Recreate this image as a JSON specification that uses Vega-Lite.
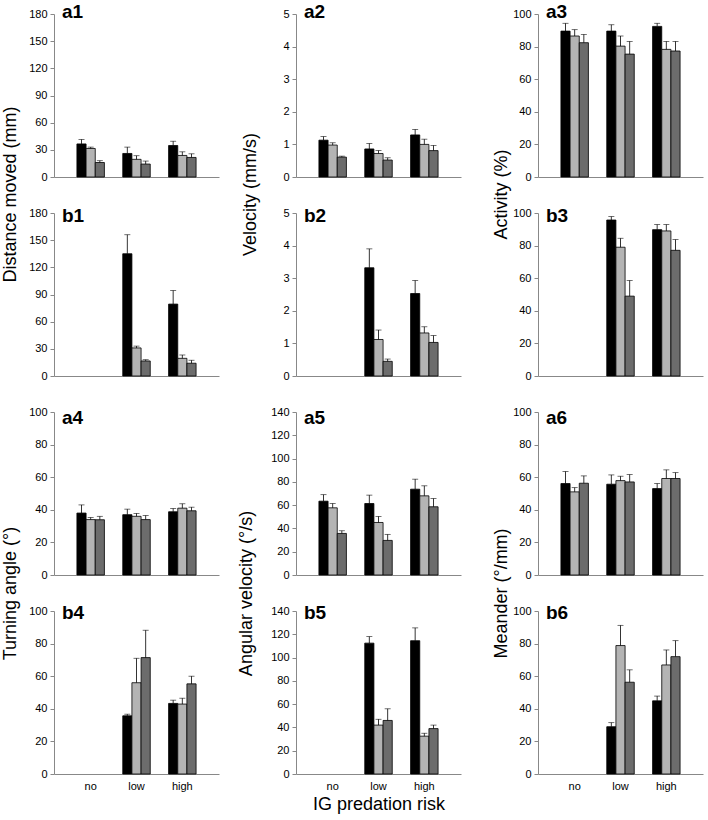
{
 "$schema": "https://vega.github.io/schema/vega-lite/v6.json",
 "padding": {"left": 1, "top": 3, "right": 2, "bottom": 2},
 "config": {
  "view": {"stroke": null},
  "font": "Liberation Sans",
  "axis": {"domainColor": "#888888", "tickColor": "#888888", "labelColor": "#000000", "labelFont": "Liberation Sans", "labelFontSize": 11, "titleFont": "Liberation Sans", "titleFontSize": 18, "titleFontWeight": "normal", "titleColor": "#000000", "grid": false, "domainWidth": 1},
  "axisY": {"tickSize": 4, "labelPadding": 3},
  "axisX": {"ticks": false, "labels": false, "title": null},
  "title": {"fontSize": 19, "fontWeight": "bold", "anchor": "start", "frame": "group", "font": "Liberation Sans", "dx": 8, "offset": -14, "color": "#000000"}
 },
 "datasets": {
  "d": [
   {"panel": "a1", "risk": "no", "series": "s1", "mean": 36.5, "upper": 41.5},
   {"panel": "a1", "risk": "no", "series": "s2", "mean": 31.5, "upper": 33},
   {"panel": "a1", "risk": "no", "series": "s3", "mean": 16, "upper": 18},
   {"panel": "a1", "risk": "low", "series": "s1", "mean": 26, "upper": 33},
   {"panel": "a1", "risk": "low", "series": "s2", "mean": 19.5, "upper": 23.5},
   {"panel": "a1", "risk": "low", "series": "s3", "mean": 14.3, "upper": 17.6},
   {"panel": "a1", "risk": "high", "series": "s1", "mean": 34.8, "upper": 39.5},
   {"panel": "a1", "risk": "high", "series": "s2", "mean": 23.8, "upper": 27.8},
   {"panel": "a1", "risk": "high", "series": "s3", "mean": 21.6, "upper": 25.6},
   {"panel": "a2", "risk": "no", "series": "s1", "mean": 1.13, "upper": 1.24},
   {"panel": "a2", "risk": "no", "series": "s2", "mean": 0.98, "upper": 1.05},
   {"panel": "a2", "risk": "no", "series": "s3", "mean": 0.61, "upper": 0.64},
   {"panel": "a2", "risk": "low", "series": "s1", "mean": 0.86, "upper": 1.03},
   {"panel": "a2", "risk": "low", "series": "s2", "mean": 0.72, "upper": 0.81},
   {"panel": "a2", "risk": "low", "series": "s3", "mean": 0.52, "upper": 0.59},
   {"panel": "a2", "risk": "high", "series": "s1", "mean": 1.29, "upper": 1.46},
   {"panel": "a2", "risk": "high", "series": "s2", "mean": 1.0, "upper": 1.16},
   {"panel": "a2", "risk": "high", "series": "s3", "mean": 0.81, "upper": 0.97},
   {"panel": "a3", "risk": "no", "series": "s1", "mean": 89.5, "upper": 94.3},
   {"panel": "a3", "risk": "no", "series": "s2", "mean": 86.5, "upper": 90.4},
   {"panel": "a3", "risk": "no", "series": "s3", "mean": 82.4, "upper": 87.5},
   {"panel": "a3", "risk": "low", "series": "s1", "mean": 89.5, "upper": 93.4},
   {"panel": "a3", "risk": "low", "series": "s2", "mean": 80.3, "upper": 86.5},
   {"panel": "a3", "risk": "low", "series": "s3", "mean": 75.4, "upper": 83.2},
   {"panel": "a3", "risk": "high", "series": "s1", "mean": 92.4, "upper": 94.3},
   {"panel": "a3", "risk": "high", "series": "s2", "mean": 78.3, "upper": 83.2},
   {"panel": "a3", "risk": "high", "series": "s3", "mean": 77.3, "upper": 83.2},
   {"panel": "b1", "risk": "low", "series": "s1", "mean": 135, "upper": 156},
   {"panel": "b1", "risk": "low", "series": "s2", "mean": 31, "upper": 33},
   {"panel": "b1", "risk": "low", "series": "s3", "mean": 16.6, "upper": 18},
   {"panel": "b1", "risk": "high", "series": "s1", "mean": 79.4, "upper": 94.4},
   {"panel": "b1", "risk": "high", "series": "s2", "mean": 19.5, "upper": 23.2},
   {"panel": "b1", "risk": "high", "series": "s3", "mean": 14.1, "upper": 17.4},
   {"panel": "b2", "risk": "low", "series": "s1", "mean": 3.32, "upper": 3.9},
   {"panel": "b2", "risk": "low", "series": "s2", "mean": 1.12, "upper": 1.41},
   {"panel": "b2", "risk": "low", "series": "s3", "mean": 0.45, "upper": 0.52},
   {"panel": "b2", "risk": "high", "series": "s1", "mean": 2.53, "upper": 2.93},
   {"panel": "b2", "risk": "high", "series": "s2", "mean": 1.32, "upper": 1.51},
   {"panel": "b2", "risk": "high", "series": "s3", "mean": 1.03, "upper": 1.24},
   {"panel": "b3", "risk": "low", "series": "s1", "mean": 95.7, "upper": 97.8},
   {"panel": "b3", "risk": "low", "series": "s2", "mean": 79, "upper": 84.5},
   {"panel": "b3", "risk": "low", "series": "s3", "mean": 49, "upper": 58.6},
   {"panel": "b3", "risk": "high", "series": "s1", "mean": 89.8, "upper": 92.9},
   {"panel": "b3", "risk": "high", "series": "s2", "mean": 89, "upper": 92.9},
   {"panel": "b3", "risk": "high", "series": "s3", "mean": 77.1, "upper": 83.7},
   {"panel": "a4", "risk": "no", "series": "s1", "mean": 38, "upper": 43},
   {"panel": "a4", "risk": "no", "series": "s2", "mean": 34, "upper": 35.3},
   {"panel": "a4", "risk": "no", "series": "s3", "mean": 33.9, "upper": 36},
   {"panel": "a4", "risk": "low", "series": "s1", "mean": 37, "upper": 40.4},
   {"panel": "a4", "risk": "low", "series": "s2", "mean": 36, "upper": 37.8},
   {"panel": "a4", "risk": "low", "series": "s3", "mean": 34, "upper": 36.5},
   {"panel": "a4", "risk": "high", "series": "s1", "mean": 38.8, "upper": 40.8},
   {"panel": "a4", "risk": "high", "series": "s2", "mean": 41, "upper": 43.7},
   {"panel": "a4", "risk": "high", "series": "s3", "mean": 39.4, "upper": 41.6},
   {"panel": "b4", "risk": "low", "series": "s1", "mean": 35.7, "upper": 36.7},
   {"panel": "b4", "risk": "low", "series": "s2", "mean": 56, "upper": 71},
   {"panel": "b4", "risk": "low", "series": "s3", "mean": 71.4, "upper": 88.2},
   {"panel": "b4", "risk": "high", "series": "s1", "mean": 43.3, "upper": 45.3},
   {"panel": "b4", "risk": "high", "series": "s2", "mean": 42.9, "upper": 46.5},
   {"panel": "b4", "risk": "high", "series": "s3", "mean": 55.3, "upper": 60},
   {"panel": "a5", "risk": "no", "series": "s1", "mean": 63.4, "upper": 69},
   {"panel": "a5", "risk": "no", "series": "s2", "mean": 57.7, "upper": 61.4},
   {"panel": "a5", "risk": "no", "series": "s3", "mean": 35.7, "upper": 38},
   {"panel": "a5", "risk": "low", "series": "s1", "mean": 61.4, "upper": 68.6},
   {"panel": "a5", "risk": "low", "series": "s2", "mean": 45.1, "upper": 50.3},
   {"panel": "a5", "risk": "low", "series": "s3", "mean": 29.7, "upper": 34.9},
   {"panel": "a5", "risk": "high", "series": "s1", "mean": 73.7, "upper": 82.3},
   {"panel": "a5", "risk": "high", "series": "s2", "mean": 68, "upper": 76.6},
   {"panel": "a5", "risk": "high", "series": "s3", "mean": 58.6, "upper": 65.7},
   {"panel": "b5", "risk": "low", "series": "s1", "mean": 112.4, "upper": 118},
   {"panel": "b5", "risk": "low", "series": "s2", "mean": 42, "upper": 47},
   {"panel": "b5", "risk": "low", "series": "s3", "mean": 46, "upper": 56},
   {"panel": "b5", "risk": "high", "series": "s1", "mean": 114.5, "upper": 125.5},
   {"panel": "b5", "risk": "high", "series": "s2", "mean": 32.5, "upper": 35},
   {"panel": "b5", "risk": "high", "series": "s3", "mean": 39, "upper": 42},
   {"panel": "a6", "risk": "no", "series": "s1", "mean": 56.1, "upper": 63.5},
   {"panel": "a6", "risk": "no", "series": "s2", "mean": 51, "upper": 53.6},
   {"panel": "a6", "risk": "no", "series": "s3", "mean": 56.3, "upper": 60.8},
   {"panel": "a6", "risk": "low", "series": "s1", "mean": 55.7, "upper": 61.4},
   {"panel": "a6", "risk": "low", "series": "s2", "mean": 57.9, "upper": 60.6},
   {"panel": "a6", "risk": "low", "series": "s3", "mean": 57.1, "upper": 61.6},
   {"panel": "a6", "risk": "high", "series": "s1", "mean": 53, "upper": 56.1},
   {"panel": "a6", "risk": "high", "series": "s2", "mean": 59.2, "upper": 64.5},
   {"panel": "a6", "risk": "high", "series": "s3", "mean": 59.2, "upper": 62.8},
   {"panel": "b6", "risk": "low", "series": "s1", "mean": 29, "upper": 31.5},
   {"panel": "b6", "risk": "low", "series": "s2", "mean": 78.8, "upper": 91.2},
   {"panel": "b6", "risk": "low", "series": "s3", "mean": 56.3, "upper": 63.9},
   {"panel": "b6", "risk": "high", "series": "s1", "mean": 44.9, "upper": 47.8},
   {"panel": "b6", "risk": "high", "series": "s2", "mean": 66.9, "upper": 76.1},
   {"panel": "b6", "risk": "high", "series": "s3", "mean": 72, "upper": 81.8}
  ]
 },
 "bounds": "flush",
 "columns": 3,
 "spacing": {"row": 36, "column": 77},
 "concat": [
    {"width": 165, "height": 163, "title": {"text": "a1", "offset": -14}, "data": {"name": "d"}, "transform": [{"filter": "datum.panel === 'a1'"}],
     "encoding": {"x": {"field": "risk", "type": "nominal", "sort": null, "scale": {"domain": ["no", "low", "high"], "paddingInner": 0.4, "paddingOuter": 0.5}},
      "xOffset": {"field": "series", "type": "nominal", "scale": {"domain": ["s1", "s2", "s3"]}},
      "y": {"field": "mean", "type": "quantitative", "title": "Distance moved (mm)", "scale": {"domain": [0, 180]}, "axis": {"values": [0, 30, 60, 90, 120, 150, 180], "titleY": 180, "titleX": -44, "titleBaseline": "middle", "titleAlign": "center"}}},
     "layer": [
      {"mark": {"type": "bar", "stroke": "#000000", "strokeWidth": 0.8}, "encoding": {"color": {"field": "series", "type": "nominal", "scale": {"domain": ["s1", "s2", "s3"], "range": ["#000000", "#b4b4b4", "#6c6c6c"]}, "legend": null}}},
      {"mark": {"type": "rule", "color": "#000000", "strokeWidth": 0.8}, "encoding": {"y2": {"field": "upper"}}},
      {"mark": {"type": "tick", "color": "#000000", "thickness": 0.8, "size": 6}, "encoding": {"y": {"field": "upper", "type": "quantitative", "title": "Distance moved (mm)"}}}
     ]},
    {"width": 165, "height": 163, "title": {"text": "a2", "offset": -14}, "data": {"name": "d"}, "transform": [{"filter": "datum.panel === 'a2'"}],
     "encoding": {"x": {"field": "risk", "type": "nominal", "sort": null, "scale": {"domain": ["no", "low", "high"], "paddingInner": 0.4, "paddingOuter": 0.5}},
      "xOffset": {"field": "series", "type": "nominal", "scale": {"domain": ["s1", "s2", "s3"]}},
      "y": {"field": "mean", "type": "quantitative", "title": "Velocity (mm/s)", "scale": {"domain": [0, 5]}, "axis": {"values": [0, 1, 2, 3, 4, 5], "titleY": 180, "titleX": -46, "titleBaseline": "middle", "titleAlign": "center"}}},
     "layer": [
      {"mark": {"type": "bar", "stroke": "#000000", "strokeWidth": 0.8}, "encoding": {"color": {"field": "series", "type": "nominal", "scale": {"domain": ["s1", "s2", "s3"], "range": ["#000000", "#b4b4b4", "#6c6c6c"]}, "legend": null}}},
      {"mark": {"type": "rule", "color": "#000000", "strokeWidth": 0.8}, "encoding": {"y2": {"field": "upper"}}},
      {"mark": {"type": "tick", "color": "#000000", "thickness": 0.8, "size": 6}, "encoding": {"y": {"field": "upper", "type": "quantitative", "title": "Velocity (mm/s)"}}}
     ]},
    {"width": 165, "height": 163, "title": {"text": "a3", "offset": -14}, "data": {"name": "d"}, "transform": [{"filter": "datum.panel === 'a3'"}],
     "encoding": {"x": {"field": "risk", "type": "nominal", "sort": null, "scale": {"domain": ["no", "low", "high"], "paddingInner": 0.4, "paddingOuter": 0.5}},
      "xOffset": {"field": "series", "type": "nominal", "scale": {"domain": ["s1", "s2", "s3"]}},
      "y": {"field": "mean", "type": "quantitative", "title": "Activity (%)", "scale": {"domain": [0, 100]}, "axis": {"values": [0, 20, 40, 60, 80, 100], "titleY": 180, "titleX": -37, "titleBaseline": "middle", "titleAlign": "center"}}},
     "layer": [
      {"mark": {"type": "bar", "stroke": "#000000", "strokeWidth": 0.8}, "encoding": {"color": {"field": "series", "type": "nominal", "scale": {"domain": ["s1", "s2", "s3"], "range": ["#000000", "#b4b4b4", "#6c6c6c"]}, "legend": null}}},
      {"mark": {"type": "rule", "color": "#000000", "strokeWidth": 0.8}, "encoding": {"y2": {"field": "upper"}}},
      {"mark": {"type": "tick", "color": "#000000", "thickness": 0.8, "size": 6}, "encoding": {"y": {"field": "upper", "type": "quantitative", "title": "Activity (%)"}}}
     ]},
    {"width": 165, "height": 163, "title": {"text": "b1", "offset": -19}, "data": {"name": "d"}, "transform": [{"filter": "datum.panel === 'b1'"}],
     "encoding": {"x": {"field": "risk", "type": "nominal", "sort": null, "scale": {"domain": ["no", "low", "high"], "paddingInner": 0.4, "paddingOuter": 0.5}},
      "xOffset": {"field": "series", "type": "nominal", "scale": {"domain": ["s1", "s2", "s3"]}},
      "y": {"field": "mean", "type": "quantitative", "title": null, "scale": {"domain": [0, 180]}, "axis": {"values": [0, 30, 60, 90, 120, 150, 180]}}},
     "layer": [
      {"mark": {"type": "bar", "stroke": "#000000", "strokeWidth": 0.8}, "encoding": {"color": {"field": "series", "type": "nominal", "scale": {"domain": ["s1", "s2", "s3"], "range": ["#000000", "#b4b4b4", "#6c6c6c"]}, "legend": null}}},
      {"mark": {"type": "rule", "color": "#000000", "strokeWidth": 0.8}, "encoding": {"y2": {"field": "upper"}}},
      {"mark": {"type": "tick", "color": "#000000", "thickness": 0.8, "size": 6}, "encoding": {"y": {"field": "upper", "type": "quantitative", "title": null}}}
     ]},
    {"width": 165, "height": 163, "title": {"text": "b2", "offset": -19}, "data": {"name": "d"}, "transform": [{"filter": "datum.panel === 'b2'"}],
     "encoding": {"x": {"field": "risk", "type": "nominal", "sort": null, "scale": {"domain": ["no", "low", "high"], "paddingInner": 0.4, "paddingOuter": 0.5}},
      "xOffset": {"field": "series", "type": "nominal", "scale": {"domain": ["s1", "s2", "s3"]}},
      "y": {"field": "mean", "type": "quantitative", "title": null, "scale": {"domain": [0, 5]}, "axis": {"values": [0, 1, 2, 3, 4, 5]}}},
     "layer": [
      {"mark": {"type": "bar", "stroke": "#000000", "strokeWidth": 0.8}, "encoding": {"color": {"field": "series", "type": "nominal", "scale": {"domain": ["s1", "s2", "s3"], "range": ["#000000", "#b4b4b4", "#6c6c6c"]}, "legend": null}}},
      {"mark": {"type": "rule", "color": "#000000", "strokeWidth": 0.8}, "encoding": {"y2": {"field": "upper"}}},
      {"mark": {"type": "tick", "color": "#000000", "thickness": 0.8, "size": 6}, "encoding": {"y": {"field": "upper", "type": "quantitative", "title": null}}}
     ]},
    {"width": 165, "height": 163, "title": {"text": "b3", "offset": -19}, "data": {"name": "d"}, "transform": [{"filter": "datum.panel === 'b3'"}],
     "encoding": {"x": {"field": "risk", "type": "nominal", "sort": null, "scale": {"domain": ["no", "low", "high"], "paddingInner": 0.4, "paddingOuter": 0.5}},
      "xOffset": {"field": "series", "type": "nominal", "scale": {"domain": ["s1", "s2", "s3"]}},
      "y": {"field": "mean", "type": "quantitative", "title": null, "scale": {"domain": [0, 100]}, "axis": {"values": [0, 20, 40, 60, 80, 100]}}},
     "layer": [
      {"mark": {"type": "bar", "stroke": "#000000", "strokeWidth": 0.8}, "encoding": {"color": {"field": "series", "type": "nominal", "scale": {"domain": ["s1", "s2", "s3"], "range": ["#000000", "#b4b4b4", "#6c6c6c"]}, "legend": null}}},
      {"mark": {"type": "rule", "color": "#000000", "strokeWidth": 0.8}, "encoding": {"y2": {"field": "upper"}}},
      {"mark": {"type": "tick", "color": "#000000", "thickness": 0.8, "size": 6}, "encoding": {"y": {"field": "upper", "type": "quantitative", "title": null}}}
     ]},
    {"width": 165, "height": 163, "title": {"text": "a4", "offset": -22}, "data": {"name": "d"}, "transform": [{"filter": "datum.panel === 'a4'"}],
     "encoding": {"x": {"field": "risk", "type": "nominal", "sort": null, "scale": {"domain": ["no", "low", "high"], "paddingInner": 0.4, "paddingOuter": 0.5}},
      "xOffset": {"field": "series", "type": "nominal", "scale": {"domain": ["s1", "s2", "s3"]}},
      "y": {"field": "mean", "type": "quantitative", "title": "Turning angle (°)", "scale": {"domain": [0, 100]}, "axis": {"values": [0, 20, 40, 60, 80, 100], "titleY": 181, "titleX": -44, "titleBaseline": "middle", "titleAlign": "center"}}},
     "layer": [
      {"mark": {"type": "bar", "stroke": "#000000", "strokeWidth": 0.8}, "encoding": {"color": {"field": "series", "type": "nominal", "scale": {"domain": ["s1", "s2", "s3"], "range": ["#000000", "#b4b4b4", "#6c6c6c"]}, "legend": null}}},
      {"mark": {"type": "rule", "color": "#000000", "strokeWidth": 0.8}, "encoding": {"y2": {"field": "upper"}}},
      {"mark": {"type": "tick", "color": "#000000", "thickness": 0.8, "size": 6}, "encoding": {"y": {"field": "upper", "type": "quantitative", "title": "Turning angle (°)"}}}
     ]},
    {"width": 165, "height": 163, "title": {"text": "a5", "offset": -22}, "data": {"name": "d"}, "transform": [{"filter": "datum.panel === 'a5'"}],
     "encoding": {"x": {"field": "risk", "type": "nominal", "sort": null, "scale": {"domain": ["no", "low", "high"], "paddingInner": 0.4, "paddingOuter": 0.5}},
      "xOffset": {"field": "series", "type": "nominal", "scale": {"domain": ["s1", "s2", "s3"]}},
      "y": {"field": "mean", "type": "quantitative", "title": "Angular velocity (°/s)", "scale": {"domain": [0, 140]}, "axis": {"values": [0, 20, 40, 60, 80, 100, 120, 140], "titleY": 181, "titleX": -50, "titleBaseline": "middle", "titleAlign": "center"}}},
     "layer": [
      {"mark": {"type": "bar", "stroke": "#000000", "strokeWidth": 0.8}, "encoding": {"color": {"field": "series", "type": "nominal", "scale": {"domain": ["s1", "s2", "s3"], "range": ["#000000", "#b4b4b4", "#6c6c6c"]}, "legend": null}}},
      {"mark": {"type": "rule", "color": "#000000", "strokeWidth": 0.8}, "encoding": {"y2": {"field": "upper"}}},
      {"mark": {"type": "tick", "color": "#000000", "thickness": 0.8, "size": 6}, "encoding": {"y": {"field": "upper", "type": "quantitative", "title": "Angular velocity (°/s)"}}}
     ]},
    {"width": 165, "height": 163, "title": {"text": "a6", "offset": -22}, "data": {"name": "d"}, "transform": [{"filter": "datum.panel === 'a6'"}],
     "encoding": {"x": {"field": "risk", "type": "nominal", "sort": null, "scale": {"domain": ["no", "low", "high"], "paddingInner": 0.4, "paddingOuter": 0.5}},
      "xOffset": {"field": "series", "type": "nominal", "scale": {"domain": ["s1", "s2", "s3"]}},
      "y": {"field": "mean", "type": "quantitative", "title": "Meander (°/mm)", "scale": {"domain": [0, 100]}, "axis": {"values": [0, 20, 40, 60, 80, 100], "titleY": 181, "titleX": -37, "titleBaseline": "middle", "titleAlign": "center"}}},
     "layer": [
      {"mark": {"type": "bar", "stroke": "#000000", "strokeWidth": 0.8}, "encoding": {"color": {"field": "series", "type": "nominal", "scale": {"domain": ["s1", "s2", "s3"], "range": ["#000000", "#b4b4b4", "#6c6c6c"]}, "legend": null}}},
      {"mark": {"type": "rule", "color": "#000000", "strokeWidth": 0.8}, "encoding": {"y2": {"field": "upper"}}},
      {"mark": {"type": "tick", "color": "#000000", "thickness": 0.8, "size": 6}, "encoding": {"y": {"field": "upper", "type": "quantitative", "title": "Meander (°/mm)"}}}
     ]},
    {"width": 165, "height": 163, "title": {"text": "b4", "offset": -18}, "data": {"name": "d"}, "transform": [{"filter": "datum.panel === 'b4'"}],
     "encoding": {"x": {"field": "risk", "type": "nominal", "sort": null, "scale": {"domain": ["no", "low", "high"], "paddingInner": 0.4, "paddingOuter": 0.5}, "axis": {"labels": true, "labelAngle": 0, "labelPadding": 6, "title": null}},
      "xOffset": {"field": "series", "type": "nominal", "scale": {"domain": ["s1", "s2", "s3"]}},
      "y": {"field": "mean", "type": "quantitative", "title": null, "scale": {"domain": [0, 100]}, "axis": {"values": [0, 20, 40, 60, 80, 100]}}},
     "layer": [
      {"mark": {"type": "bar", "stroke": "#000000", "strokeWidth": 0.8}, "encoding": {"color": {"field": "series", "type": "nominal", "scale": {"domain": ["s1", "s2", "s3"], "range": ["#000000", "#b4b4b4", "#6c6c6c"]}, "legend": null}}},
      {"mark": {"type": "rule", "color": "#000000", "strokeWidth": 0.8}, "encoding": {"y2": {"field": "upper"}}},
      {"mark": {"type": "tick", "color": "#000000", "thickness": 0.8, "size": 6}, "encoding": {"y": {"field": "upper", "type": "quantitative", "title": null}}}
     ]},
    {"width": 165, "height": 163, "title": {"text": "b5", "offset": -18}, "data": {"name": "d"}, "transform": [{"filter": "datum.panel === 'b5'"}],
     "encoding": {"x": {"field": "risk", "type": "nominal", "sort": null, "scale": {"domain": ["no", "low", "high"], "paddingInner": 0.4, "paddingOuter": 0.5}, "axis": {"labels": true, "labelAngle": 0, "labelPadding": 6, "title": "IG predation risk", "titlePadding": 4}},
      "xOffset": {"field": "series", "type": "nominal", "scale": {"domain": ["s1", "s2", "s3"]}},
      "y": {"field": "mean", "type": "quantitative", "title": null, "scale": {"domain": [0, 140]}, "axis": {"values": [0, 20, 40, 60, 80, 100, 120, 140]}}},
     "layer": [
      {"mark": {"type": "bar", "stroke": "#000000", "strokeWidth": 0.8}, "encoding": {"color": {"field": "series", "type": "nominal", "scale": {"domain": ["s1", "s2", "s3"], "range": ["#000000", "#b4b4b4", "#6c6c6c"]}, "legend": null}}},
      {"mark": {"type": "rule", "color": "#000000", "strokeWidth": 0.8}, "encoding": {"y2": {"field": "upper"}}},
      {"mark": {"type": "tick", "color": "#000000", "thickness": 0.8, "size": 6}, "encoding": {"y": {"field": "upper", "type": "quantitative", "title": null}}}
     ]},
    {"width": 165, "height": 163, "title": {"text": "b6", "offset": -18}, "data": {"name": "d"}, "transform": [{"filter": "datum.panel === 'b6'"}],
     "encoding": {"x": {"field": "risk", "type": "nominal", "sort": null, "scale": {"domain": ["no", "low", "high"], "paddingInner": 0.4, "paddingOuter": 0.5}, "axis": {"labels": true, "labelAngle": 0, "labelPadding": 6, "title": null}},
      "xOffset": {"field": "series", "type": "nominal", "scale": {"domain": ["s1", "s2", "s3"]}},
      "y": {"field": "mean", "type": "quantitative", "title": null, "scale": {"domain": [0, 100]}, "axis": {"values": [0, 20, 40, 60, 80, 100]}}},
     "layer": [
      {"mark": {"type": "bar", "stroke": "#000000", "strokeWidth": 0.8}, "encoding": {"color": {"field": "series", "type": "nominal", "scale": {"domain": ["s1", "s2", "s3"], "range": ["#000000", "#b4b4b4", "#6c6c6c"]}, "legend": null}}},
      {"mark": {"type": "rule", "color": "#000000", "strokeWidth": 0.8}, "encoding": {"y2": {"field": "upper"}}},
      {"mark": {"type": "tick", "color": "#000000", "thickness": 0.8, "size": 6}, "encoding": {"y": {"field": "upper", "type": "quantitative", "title": null}}}
     ]}
 ]
}
